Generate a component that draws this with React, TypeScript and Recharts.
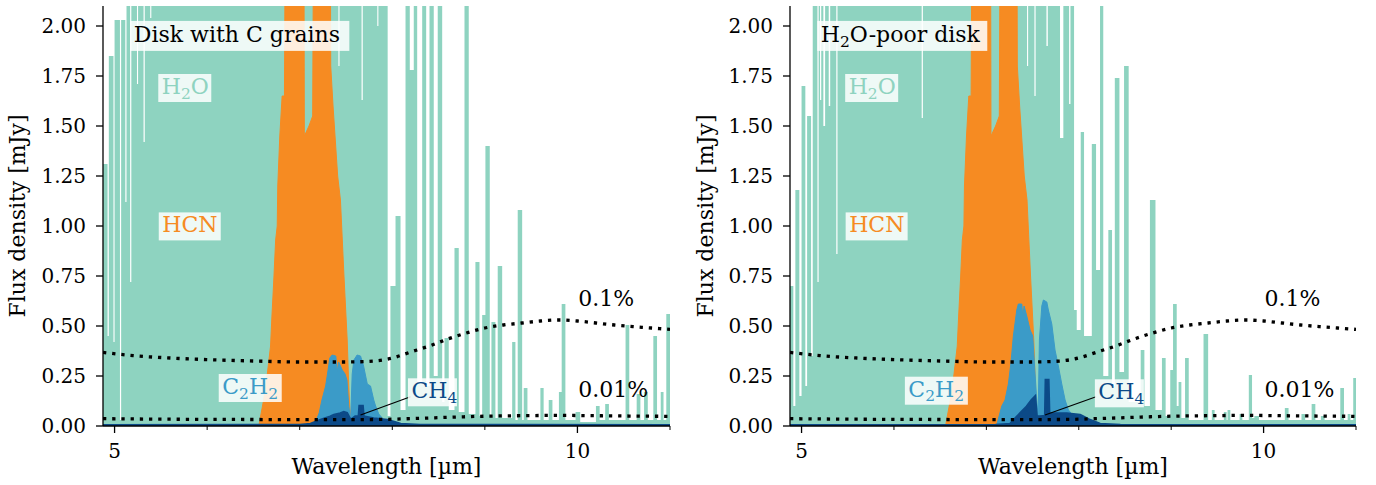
import { Area, ComposedChart, Line, ReferenceDot, ReferenceLine, XAxis, YAxis } from 'recharts'

type Pt = [number, number]

// H2O line forest, [wavelength µm, flux mJy], held until the next point (step)
const h2oDiskC: Pt[] = [
  [4.875, 1.31], [4.924, 0.45], [4.938, 1.85], [4.988, 0.42], [5.0, 2.03], [5.058, 0.03],
  [5.071, 2.03], [5.116, 1.12], [5.129, 2.6], [5.168, 0.72], [5.181, 2.6], [5.242, 1.71],
  [5.254, 2.6], [5.313, 1.42], [5.326, 2.6], [5.385, 2.04], [5.397, 2.6], [7.418, 1.8],
  [7.43, 2.6], [7.668, 1.63], [7.681, 2.6], [7.838, 2.0], [7.85, 2.6], [7.95, 0.05],
  [7.98, 0.7], [8.035, 1.05], [8.089, 0.08], [8.143, 2.6], [8.189, 1.78], [8.232, 2.6],
  [8.269, 0.22], [8.323, 2.6], [8.366, 0.2], [8.402, 2.6], [8.448, 0.25], [8.491, 2.6],
  [8.539, 0.12], [8.564, 0.44], [8.61, 0.08], [8.672, 0.89], [8.718, 0.07], [8.78, 2.6],
  [8.826, 0.06], [8.898, 0.82], [8.942, 0.05], [8.971, 0.555], [9.006, 1.4], [9.053, 0.05],
  [9.071, 0.52], [9.114, 0.04], [9.139, 0.8], [9.187, 0.04], [9.295, 0.42], [9.33, 0.03],
  [9.355, 1.08], [9.403, 0.03], [9.42, 0.19], [9.46, 0.03], [9.6, 0.19], [9.635, 0.03],
  [9.69, 0.13], [9.73, 0.03], [9.8, 0.17], [9.83, 0.61], [9.87, 0.03], [9.98, 0.07],
  [10.03, 0.02], [10.2, 0.1], [10.24, 0.03], [10.3, 0.11], [10.34, 0.03], [10.52, 0.505],
  [10.56, 0.03], [10.64, 0.16], [10.68, 0.03], [10.72, 0.17], [10.76, 0.03], [10.82, 0.45],
  [10.86, 0.03], [10.9, 0.17], [10.93, 0.03], [10.96, 0.56], [11.0, 0.56],
]

const h2oPoor: Pt[] = [
  [4.875, 0.7], [4.911, 0.1], [4.933, 1.18], [4.976, 0.15], [5.0, 1.7], [5.041, 0.2],
  [5.06, 1.55], [5.103, 0.35], [5.121, 2.6], [5.172, 0.72], [5.185, 2.6], [5.2, 1.63],
  [5.213, 2.6], [5.236, 1.5], [5.255, 2.6], [5.294, 1.6], [5.31, 2.6], [5.376, 0.86],
  [5.389, 2.6], [6.3, 1.54], [6.313, 2.6], [7.44, 1.8], [7.452, 2.6], [7.52, 1.65],
  [7.533, 2.6], [7.65, 1.9], [7.665, 2.6], [7.797, 1.44], [7.833, 2.6], [7.895, 1.61],
  [7.91, 2.6], [7.949, 0.58], [7.978, 0.48], [8.021, 1.47], [8.057, 0.45], [8.141, 1.41],
  [8.187, 0.78], [8.23, 2.6], [8.265, 0.25], [8.32, 0.98], [8.36, 0.2], [8.39, 1.74],
  [8.44, 0.27], [8.49, 1.8], [8.54, 0.12], [8.67, 0.38], [8.71, 0.1], [8.77, 1.13],
  [8.83, 0.08], [8.9, 0.34], [8.94, 0.05], [8.99, 0.28], [9.02, 0.61], [9.06, 0.1],
  [9.08, 0.22], [9.11, 0.04], [9.15, 0.34], [9.19, 0.03], [9.35, 0.46], [9.4, 0.03],
  [9.44, 0.08], [9.47, 0.03], [9.57, 0.07], [9.6, 0.03], [9.61, 0.08], [9.64, 0.03],
  [9.74, 0.06], [9.77, 0.03], [9.84, 0.255], [9.875, 0.04], [9.9, 0.05], [9.95, 0.03],
  [10.23, 0.09], [10.27, 0.03], [10.41, 0.06], [10.45, 0.03], [10.52, 0.11], [10.56, 0.03],
  [10.62, 0.05], [10.66, 0.03], [10.83, 0.19], [10.87, 0.03], [10.91, 0.06], [10.94, 0.03],
  [10.97, 0.24], [11.0, 0.24],
]

// HCN band, same in both disks
const hcnFlux: Pt[] = [
  [6.45, 0], [6.56, 0.005], [6.61, 0.13], [6.65, 0.26], [6.685, 0.4], [6.7, 0.55],
  [6.72, 0.73], [6.74, 0.93], [6.757, 1.0], [6.763, 1.2], [6.785, 1.45], [6.81, 1.65],
  [6.835, 1.65], [6.845, 2.6], [7.045, 2.6], [7.05, 1.45], [7.1, 1.5], [7.14, 1.55],
  [7.15, 2.6], [7.33, 2.6], [7.335, 1.8], [7.36, 1.6], [7.41, 1.25], [7.44, 1.13],
  [7.477, 0.76], [7.513, 0.43], [7.53, 0.2], [7.54, 0.1], [7.555, 0.02], [7.6, 0],
]

const c2h2DiskC: Pt[] = [
  [7.1, 0], [7.15, 0.005], [7.18, 0.03], [7.21, 0.065], [7.24, 0.13], [7.28, 0.2],
  [7.3, 0.26], [7.325, 0.34], [7.35, 0.355], [7.39, 0.35], [7.405, 0.27], [7.42, 0.32],
  [7.46, 0.28], [7.49, 0.26], [7.51, 0.23], [7.53, 0.1], [7.55, 0.03], [7.567, 0.26],
  [7.585, 0.33], [7.62, 0.355], [7.657, 0.35], [7.69, 0.3], [7.73, 0.21], [7.765, 0.2],
  [7.8, 0.13], [7.82, 0.1], [7.854, 0.06], [7.91, 0.03], [7.98, 0.02], [8.09, 0.01], [8.4, 0.003],
]

const c2h2Poor: Pt[] = [
  [7.08, 0], [7.112, 0.005], [7.167, 0.1], [7.202, 0.13], [7.238, 0.21], [7.267, 0.32],
  [7.292, 0.45], [7.329, 0.58], [7.346, 0.61], [7.383, 0.61], [7.394, 0.55], [7.408, 0.6],
  [7.437, 0.55], [7.473, 0.48], [7.502, 0.45], [7.527, 0.26], [7.545, 0.13], [7.56, 0.05],
  [7.574, 0.43], [7.6, 0.6], [7.617, 0.63], [7.654, 0.62], [7.671, 0.58], [7.708, 0.51],
  [7.743, 0.38], [7.779, 0.3], [7.816, 0.21], [7.852, 0.13], [7.888, 0.08], [7.942, 0.05],
  [8.014, 0.03], [8.12, 0.01], [8.4, 0.003],
]

const ch4DiskC: Pt[] = [
  [4.875, 0.004], [7.0, 0.005], [7.117, 0.01], [7.225, 0.03], [7.33, 0.047], [7.37, 0.055],
  [7.44, 0.063], [7.476, 0.07], [7.51, 0.065], [7.55, 0.03], [7.6, 0.047], [7.638, 0.047],
  [7.646, 0.1], [7.68, 0.1], [7.69, 0.047], [7.8, 0.038], [7.945, 0.03], [8.02, 0.02],
  [8.09, 0.01], [8.3, 0.005], [11.0, 0.004],
]

const ch4Poor: Pt[] = [
  [4.875, 0.004], [7.1, 0.005], [7.256, 0.01], [7.365, 0.063], [7.437, 0.097], [7.49, 0.13],
  [7.527, 0.147], [7.545, 0.047], [7.58, 0.047], [7.636, 0.05], [7.643, 0.23], [7.671, 0.23],
  [7.68, 0.063], [7.725, 0.063], [7.87, 0.063], [8.014, 0.055], [8.05, 0.047], [8.12, 0.03],
  [8.23, 0.01], [8.45, 0.005], [11.0, 0.004],
]

// detection limits
const noiseWave = [4.875, 5.2, 5.6, 6.0, 6.5, 7.0, 7.5, 7.8, 8.0, 8.2, 8.4, 8.6, 8.8, 9.0, 9.2, 9.4, 9.6, 9.8, 10.0, 10.2, 10.4, 10.6, 10.8, 11.0]
const noise01 = [0.368, 0.352, 0.34, 0.332, 0.325, 0.32, 0.32, 0.325, 0.34, 0.37, 0.4, 0.435, 0.465, 0.49, 0.505, 0.515, 0.525, 0.53, 0.525, 0.515, 0.505, 0.497, 0.49, 0.483]
const noise001 = [0.0368, 0.0352, 0.034, 0.0332, 0.0325, 0.032, 0.032, 0.0325, 0.034, 0.037, 0.04, 0.0435, 0.0465, 0.049, 0.0505, 0.0515, 0.0525, 0.053, 0.0525, 0.0515, 0.0505, 0.0497, 0.049, 0.0483]

const xTicks = [5, 6, 7, 8, 9, 10, 11]
const xLabelled = [5, 10]
const yTicks = [0, 0.25, 0.5, 0.75, 1.0, 1.25, 1.5, 1.75, 2.0]

const TEAL = '#8ed3c0'
const ORANGE = '#f68b22'
const BLUE = '#3b9bc8'
const NAVY = '#0c4a88'
const FONT = "'DejaVu Serif', 'Liberation Serif', serif"

const rows = (pts: Pt[]) => pts.map(([x, y]) => ({ x, y }))
const noiseRows = (vals: number[]) => noiseWave.map((x, i) => ({ x, y: vals[i] }))

function XTick({ x, y, payload }: any) {
  const major = xLabelled.includes(payload.value)
  return (
    <g>
      <line x1={x} x2={x} y1={y} y2={y + (major ? 7 : 4)} stroke='#000' strokeWidth={major ? 1.3 : 1} />
      {major && (
        <text x={x} y={y + 32} textAnchor='middle' fontSize={20} style={{ fontFamily: FONT }} fill='#000'>
          {payload.value}
        </text>
      )}
    </g>
  )
}

function YTick({ x, y, payload }: any) {
  return (
    <g>
      <line x1={x - 7} x2={x} y1={y} y2={y} stroke='#000' strokeWidth={1.3} />
      <text x={x - 17} y={y + 7} textAnchor='end' fontSize={20} style={{ fontFamily: FONT }} fill='#000'>
        {payload.value.toFixed(2)}
      </text>
    </g>
  )
}

function Tag({ cx, cy, w, h = 28, top = 20, color = '#000', box = true, children }: any) {
  return (
    <g>
      {box && <rect x={cx - 3.5} y={cy - top} width={w} height={h} fill='#fff' fillOpacity={0.85} />}
      <text x={cx} y={cy} fontSize={22} style={{ fontFamily: FONT }} fill={color}>
        {children}
      </text>
    </g>
  )
}

const h2oText = (
  <>
    H<tspan fontSize={15.5} dy={4.5}>2</tspan>
    <tspan dy={-4.5}>O</tspan>
  </>
)

const panels = [
  {
    id: 'c',
    h2o: h2oDiskC,
    c2h2: c2h2DiskC,
    ch4: ch4DiskC,
    axisW: 103,
    right: 18,
    title: <>Disk with C grains</>,
    titleW: 219,
    c2h2At: [6.163, 0.16],
    ch4At: [8.207, 0.1385],
    ch4From: [8.197, 0.1465],
    ch4To: [7.657, 0.055],
  },
  {
    id: 'p',
    h2o: h2oPoor,
    c2h2: c2h2Poor,
    ch4: ch4Poor,
    axisW: 102,
    right: 20,
    title: (
      <>
        H<tspan fontSize={15.5} dy={4.5}>2</tspan>
        <tspan dy={-4.5}>O-poor disk</tspan>
      </>
    ),
    titleW: 170,
    c2h2At: [6.156, 0.1465],
    ch4At: [8.212, 0.1335],
    ch4From: [8.187, 0.1465],
    ch4To: [7.635, 0.055],
  },
]

function Panel({ p }: { p: (typeof panels)[number] }) {
  return (
    <ComposedChart width={688} height={485} margin={{ top: 6, right: p.right, bottom: 0, left: 0 }}>
      <XAxis
        xAxisId={0}
        type='number'
        dataKey='x'
        domain={[4.875, 11]}
        allowDataOverflow
        ticks={xTicks}
        tick={<XTick />}
        tickLine={false}
        tickSize={0}
        tickMargin={0}
        interval={0}
        height={59}
        axisLine={{ stroke: '#000', strokeWidth: 1.3 }}
        label={(props: any) => {
          const vb = props.viewBox
          return (
            <text x={vb.x + vb.width / 2} y={vb.y + 48} textAnchor='middle' fontSize={22} style={{ fontFamily: FONT }} fill='#000'>
              Wavelength [µm]
            </text>
          )
        }}
      />
      <XAxis xAxisId='top' orientation='top' type='number' domain={[0, 1]} height={0} tick={false} tickLine={false} axisLine={{ stroke: '#000', strokeWidth: 1.3 }} />
      <YAxis
        yAxisId={0}
        type='number'
        domain={[0, 2.1]}
        allowDataOverflow
        ticks={yTicks}
        tick={<YTick />}
        tickLine={false}
        tickSize={0}
        tickMargin={0}
        interval={0}
        width={p.axisW}
        axisLine={{ stroke: '#000', strokeWidth: 1.3 }}
        label={(props: any) => {
          const vb = props.viewBox
          const cx = vb.x + 25
          const cy = vb.y + vb.height / 2
          return (
            <text x={cx} y={cy} transform={`rotate(-90, ${cx}, ${cy})`} textAnchor='middle' fontSize={22} style={{ fontFamily: FONT }} fill='#000'>
              Flux density [mJy]
            </text>
          )
        }}
      />
      <YAxis yAxisId='right' orientation='right' type='number' domain={[0, 1]} width={0} tick={false} tickLine={false} axisLine={{ stroke: '#000', strokeWidth: 1.3 }} />

      <Area data={rows(p.h2o)} dataKey='y' type='stepAfter' fill={TEAL} fillOpacity={1} stroke='none' isAnimationActive={false} />
      <Area data={rows(hcnFlux)} dataKey='y' type='linear' fill={ORANGE} fillOpacity={1} stroke={ORANGE} strokeWidth={1} isAnimationActive={false} />
      <Area data={rows(p.c2h2)} dataKey='y' type='linear' fill={BLUE} fillOpacity={1} stroke={BLUE} strokeWidth={1} isAnimationActive={false} />
      <Area data={rows(p.ch4)} dataKey='y' type='linear' fill={NAVY} fillOpacity={1} stroke={NAVY} strokeWidth={2.5} isAnimationActive={false} />

      <Line data={noiseRows(noise01)} dataKey='y' type='monotone' stroke='#000' strokeWidth={3.3} strokeDasharray='3.3 5.9' dot={false} isAnimationActive={false} />
      <Line data={noiseRows(noise001)} dataKey='y' type='monotone' stroke='#000' strokeWidth={3.3} strokeDasharray='3.3 5.9' dot={false} isAnimationActive={false} />

      <ReferenceLine segment={[{ x: p.ch4From[0], y: p.ch4From[1] }, { x: p.ch4To[0], y: p.ch4To[1] }]} stroke='#000' strokeWidth={1.2} />

      <ReferenceDot x={5.208} y={1.918} r={0} shape={(s: any) => <Tag cx={s.cx} cy={s.cy} w={p.titleW} h={30} top={21.5}>{p.title}</Tag>} />
      <ReferenceDot x={5.51} y={1.66} r={0} shape={(s: any) => <Tag cx={s.cx} cy={s.cy} w={53} color={TEAL}>{h2oText}</Tag>} />
      <ReferenceDot x={5.515} y={0.968} r={0} shape={(s: any) => <Tag cx={s.cx} cy={s.cy} w={62} color={ORANGE}>HCN</Tag>} />
      <ReferenceDot
        x={p.c2h2At[0]}
        y={p.c2h2At[1]}
        r={0}
        shape={(s: any) => (
          <Tag cx={s.cx} cy={s.cy} w={63} color={BLUE}>
            C<tspan fontSize={15.5} dy={4.5}>2</tspan>
            <tspan dy={-4.5}>H</tspan>
            <tspan fontSize={15.5} dy={4.5}>2</tspan>
          </Tag>
        )}
      />
      <ReferenceDot
        x={p.ch4At[0]}
        y={p.ch4At[1]}
        r={0}
        shape={(s: any) => (
          <Tag cx={s.cx} cy={s.cy} w={49} color={NAVY}>
            CH<tspan fontSize={15.5} dy={4.5}>4</tspan>
          </Tag>
        )}
      />
      <ReferenceDot x={10.01} y={0.6015} r={0} shape={(s: any) => <Tag cx={s.cx} cy={s.cy} box={false}>0.1%</Tag>} />
      <ReferenceDot x={10.01} y={0.1435} r={0} shape={(s: any) => <Tag cx={s.cx} cy={s.cy} box={false}>0.01%</Tag>} />
    </ComposedChart>
  )
}

export default function App() {
  return (
    <div style={{ position: 'absolute', left: 0, top: 0, width: 1376, height: 485, display: 'flex', background: '#fff' }}>
      {panels.map((p) => (
        <Panel key={p.id} p={p} />
      ))}
    </div>
  )
}
